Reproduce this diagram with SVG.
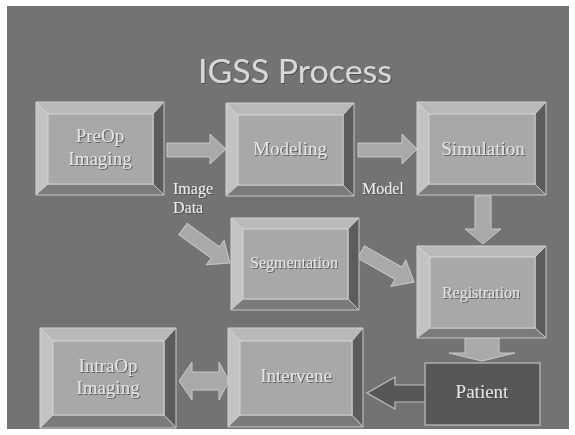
<svg xmlns="http://www.w3.org/2000/svg" width="575" height="435" viewBox="0 0 575 435">
<defs>
<style>
.bg{fill:#737373}
.bt{fill:#b9b9b9;stroke:#d2d2d2;stroke-width:1}
.bl{fill:#c3c3c3;stroke:#d2d2d2;stroke-width:1}
.br{fill:#5c5c5c;stroke:#c8c8c8;stroke-width:1}
.bb{fill:#7b7b7b;stroke:#c8c8c8;stroke-width:1}
.face{fill:#a8a8a8;stroke:#cfcfcf;stroke-width:1}
.dark{fill:#575757;stroke:#c0c0c0;stroke-width:1.2}
.arr{fill:#a9a9a9;stroke:#c9c9c9;stroke-width:1}
.lbl{font-family:"Liberation Serif","Times New Roman",serif;font-size:19px;fill:#e4e4e4;text-anchor:middle;filter:url(#sh)}
.sm{font-size:16px}
.cl{font-family:"Liberation Serif","Times New Roman",serif;font-size:16px;fill:#eeeeee;filter:url(#sh)}
.title{font-family:Lato,"Open Sans",sans-serif;font-size:33px;fill:#d8d8d8;text-anchor:middle;filter:url(#sh)}
</style>
<filter id="sh" x="-10%" y="-20%" width="130%" height="150%">
<feDropShadow dx="1" dy="1" stdDeviation="0.4" flood-color="#3a3a3a" flood-opacity="0.7"/>
</filter>
</defs>
<rect width="575" height="435" fill="#ffffff"/>
<rect class="bg" x="7" y="6" width="562" height="423"/>
<text class="title" x="295" y="83" textLength="194" lengthAdjust="spacingAndGlyphs">IGSS Process</text>

<g id="connectors">
<polygon class="arr" points="167,143 210,143 210,134 226,149 210,164 210,157 167,157"/>
<polygon class="arr" points="358,143 402,143 402,134 417,149 402,164 402,157 358,157"/>
<polygon class="arr" points="475,196 491,196 491,229 501,229 483,244 465,229 475,229"/>
<polygon class="arr" points="0,-7 40,-7 40,-15 58,0 40,15 40,7 0,7" transform="translate(183,229) rotate(36)"/>
<polygon class="arr" points="0,-7 43,-7 43,-15 61,0 43,15 43,7 0,7" transform="translate(361,252) rotate(29.5)"/>
<polygon class="arr" points="465,338 499,338 499,353 515,353 482,361 449,353 465,353"/>
<polygon class="dark" points="426,385 395,385 395,377 367,393 395,409 395,402 426,402"/>
<polygon class="arr" points="179,381 192,362 192,372 219,372 219,362 229,381 219,400 219,390 192,390 192,400"/>
<text class="cl" x="173" y="194">Image</text>
<text class="cl" x="173" y="213">Data</text>
<text class="cl" x="362" y="194">Model</text>
</g>

<g id="preop">
<polygon class="bt" points="36,102 164,102 153,114 48,114"/>
<polygon class="bl" points="36,102 48,114 48,184 36,195"/>
<polygon class="br" points="164,102 164,195 153,184 153,114"/>
<polygon class="bb" points="36,195 48,184 153,184 164,195"/>
<rect class="face" x="48" y="114" width="105" height="70"/>
<text class="lbl" x="100" y="142">PreOp</text>
<text class="lbl" x="100" y="165">Imaging</text>
</g>

<g id="modeling">
<polygon class="bt" points="226,103 354,103 343,115 238,115"/>
<polygon class="bl" points="226,103 238,115 238,185 226,196"/>
<polygon class="br" points="354,103 354,196 343,185 343,115"/>
<polygon class="bb" points="226,196 238,185 343,185 354,196"/>
<rect class="face" x="238" y="115" width="105" height="70"/>
<text class="lbl" x="290" y="155">Modeling</text>
</g>

<g id="simulation">
<polygon class="bt" points="417,102 546,102 535,114 429,114"/>
<polygon class="bl" points="417,102 429,114 429,184 417,195"/>
<polygon class="br" points="546,102 546,195 535,184 535,114"/>
<polygon class="bb" points="417,195 429,184 535,184 546,195"/>
<rect class="face" x="429" y="114" width="106" height="70"/>
<text class="lbl" x="483" y="155">Simulation</text>
</g>

<g id="segmentation">
<polygon class="bt" points="231,218 359,218 348,229 243,229"/>
<polygon class="bl" points="231,218 243,229 243,299 231,310"/>
<polygon class="br" points="359,218 359,310 348,299 348,229"/>
<polygon class="bb" points="231,310 243,299 348,299 359,310"/>
<rect class="face" x="243" y="229" width="105" height="70"/>
<text class="lbl sm" x="294" y="268">Segmentation</text>
</g>

<g id="registration">
<polygon class="bt" points="417,246 546,246 535,257 430,257"/>
<polygon class="bl" points="417,246 430,257 430,328 417,338"/>
<polygon class="br" points="546,246 546,338 535,328 535,257"/>
<polygon class="bb" points="417,338 430,328 535,328 546,338"/>
<rect class="face" x="430" y="257" width="105" height="71"/>
<text class="lbl sm" x="481" y="298">Registration</text>
</g>

<g id="intraop">
<polygon class="bt" points="40,328 176,328 164,341 53,341"/>
<polygon class="bl" points="40,328 53,341 53,415 40,428"/>
<polygon class="br" points="176,328 176,428 164,415 164,341"/>
<polygon class="bb" points="40,428 53,415 164,415 176,428"/>
<rect class="face" x="53" y="341" width="111" height="74"/>
<text class="lbl" x="108" y="372">IntraOp</text>
<text class="lbl" x="108" y="394">Imaging</text>
</g>

<g id="intervene">
<polygon class="bt" points="228,328 363,328 352,341 240,341"/>
<polygon class="bl" points="228,328 240,341 240,415 228,427"/>
<polygon class="br" points="363,328 363,427 352,415 352,341"/>
<polygon class="bb" points="228,427 240,415 352,415 363,427"/>
<rect class="face" x="240" y="341" width="112" height="74"/>
<text class="lbl" x="296" y="382">Intervene</text>
</g>

<g id="patient">
<rect class="dark" x="425" y="363" width="115" height="62"/>
<text class="lbl" x="482" y="398">Patient</text>
</g>
</svg>
